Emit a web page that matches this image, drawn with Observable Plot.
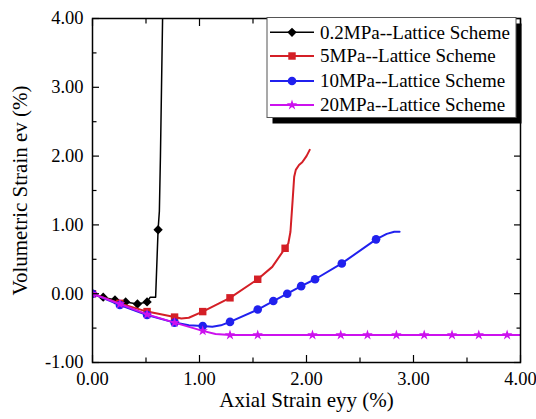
<!DOCTYPE html>
<html><head><meta charset="utf-8">
<script src="https://cdn.jsdelivr.net/npm/d3@7"></script>
<script src="https://cdn.jsdelivr.net/npm/@observablehq/plot@0.6"></script>
<style>body{margin:0;background:#fff}#chart{width:536px;height:419px}</style>
</head><body><div id="chart"></div>
<script>
// ---- data ----
const seriesNames = ["0.2MPa--Lattice Scheme", "5MPa--Lattice Scheme", "10MPa--Lattice Scheme", "20MPa--Lattice Scheme"];
const seriesColors = ["#000000", "#d41f26", "#2020ee", "#cc11ee"];
const seriesSymbols = ["diamond2", "square", "circle", "star"];
const seriesR = [4.2, 4.2, 4.3, 3.3];

// 0.2 MPa
const lineX_02 = [0, 0.10, 0.21, 0.31, 0.42, 0.51, 0.54, 0.59, 0.613, 0.625, 0.635, 0.645, 0.655];
const lineY_02 = [0, -0.05, -0.09, -0.12, -0.15, -0.12, -0.05, -0.05, 0.93, 1.2, 2.0, 3.0, 4.0];
const markX_02 = [0, 0.10, 0.21, 0.31, 0.42, 0.51, 0.613];
const markY_02 = [0, -0.05, -0.09, -0.12, -0.15, -0.12, 0.93];
// 5 MPa
const lineX_5 = [0, 0.256, 0.51, 0.767, 0.83, 0.9, 1.03, 1.285, 1.544, 1.68, 1.80, 1.83, 1.85, 1.87, 1.885, 1.90, 1.93, 1.96, 2.0, 2.03];
const lineY_5 = [0, -0.14, -0.26, -0.34, -0.36, -0.35, -0.26, -0.06, 0.21, 0.39, 0.66, 0.73, 0.9, 1.35, 1.7, 1.8, 1.87, 1.91, 2.0, 2.09];
const markX_5 = [0, 0.256, 0.51, 0.767, 1.03, 1.285, 1.544, 1.80];
const markY_5 = [0, -0.14, -0.26, -0.34, -0.26, -0.06, 0.21, 0.66];
// 10 MPa
const lineX_10 = [0, 0.256, 0.51, 0.767, 0.9, 1.03, 1.12, 1.2, 1.285, 1.544, 1.69, 1.82, 1.95, 2.08, 2.33, 2.65, 2.75, 2.82, 2.87];
const lineY_10 = [0, -0.165, -0.31, -0.42, -0.46, -0.47, -0.48, -0.46, -0.41, -0.23, -0.107, 0.0, 0.11, 0.21, 0.44, 0.79, 0.87, 0.9, 0.9];
const markX_10 = [0, 0.256, 0.51, 0.767, 1.03, 1.285, 1.544, 1.69, 1.82, 1.95, 2.08, 2.33, 2.65];
const markY_10 = [0, -0.165, -0.31, -0.42, -0.47, -0.41, -0.23, -0.107, 0.0, 0.11, 0.21, 0.44, 0.79];
// 20 MPa
const lineX_20 = [0, 0.256, 0.51, 0.767, 1.03, 1.15, 1.285, 1.544, 2.056, 2.32, 2.57, 2.84, 3.10, 3.36, 3.61, 3.875, 4.0];
const lineY_20 = [0, -0.15, -0.30, -0.42, -0.54, -0.585, -0.60, -0.60, -0.60, -0.60, -0.60, -0.60, -0.60, -0.60, -0.60, -0.60, -0.60];
const markX_20 = [0, 0.256, 0.51, 0.767, 1.03, 1.285, 1.544, 2.056, 2.32, 2.57, 2.84, 3.10, 3.36, 3.61, 3.875];
const markY_20 = [0, -0.15, -0.30, -0.42, -0.54, -0.60, -0.60, -0.60, -0.60, -0.60, -0.60, -0.60, -0.60, -0.60, -0.60];

const xMajor = [0, 1, 2, 3, 4];
const xMinor = [0.5, 1.5, 2.5, 3.5];
const yMajor = [-1, 0, 1, 2, 3, 4];
const yMinor = [-0.5, 0.5, 1.5, 2.5, 3.5];
const xTitle = "Axial Strain eyy (%)";
const yTitle = "Volumetric Strain ev (%)";

// ---- build ----
const FONT = "Liberation Serif";
const zip = (xs, ys) => xs.map((x, i) => ({x, y: ys[i]}));
const lines = [zip(lineX_02, lineY_02), zip(lineX_5, lineY_5), zip(lineX_10, lineY_10), zip(lineX_20, lineY_20)];
const marks = [zip(markX_02, markY_02), zip(markX_5, markY_5), zip(markX_10, markY_10), zip(markX_20, markY_20)];
const lineW = [1.5, 2, 2, 2];
const fmt = d => d.toFixed(2);

const dataMarks = [];
lines.forEach((ln, i) => {
  dataMarks.push(Plot.line(ln, {x: "x", y: "y", stroke: seriesColors[i], strokeWidth: lineW[i], clip: true}));
  dataMarks.push(Plot.dot(marks[i], {x: "x", y: "y", symbol: seriesSymbols[i], r: seriesR[i], fill: seriesColors[i], stroke: "none", clip: true}));
});

const tk = (fn, vals, anchor, size) => fn(vals, {anchor, tickSize: size, tickFormat: () => "", label: null, strokeWidth: 1.2,
  ...(anchor === "bottom" ? {dy: -size} : anchor === "top" ? {dy: size} : anchor === "left" ? {dx: size} : {dx: -size})});

const svg = Plot.plot({
  width: 536, height: 419,
  marginLeft: 92, marginRight: 16, marginTop: 18, marginBottom: 57,
  style: {fontFamily: FONT, background: "#fff", color: "#000"},
  x: {domain: [0, 4]},
  y: {domain: [-1, 4]},
  marks: [
    ...dataMarks,
    tk(Plot.axisX, xMajor, "bottom", 7), tk(Plot.axisX, xMinor, "bottom", 4.5),
    tk(Plot.axisX, xMajor, "top", 7), tk(Plot.axisX, xMinor, "top", 4.5),
    tk(Plot.axisY, yMajor, "left", 7), tk(Plot.axisY, yMinor, "left", 4.5),
    tk(Plot.axisY, yMajor, "right", 7), tk(Plot.axisY, yMinor, "right", 4.5),
    Plot.axisX(xMajor, {anchor: "bottom", tickSize: 0, tickPadding: 9, tickFormat: fmt, fontSize: 18.5, fontFamily: FONT, label: null}),
    Plot.axisY(yMajor, {anchor: "left", tickSize: 0, tickPadding: 9, tickFormat: fmt, fontSize: 18.5, fontFamily: FONT, label: null}),
    Plot.text([xTitle], {text: d => d, frameAnchor: "bottom", textAnchor: "middle", lineAnchor: "middle", dy: 38, fontSize: 21, fontFamily: FONT}),
    Plot.text([yTitle], {text: d => d, frameAnchor: "left", textAnchor: "middle", lineAnchor: "middle", dx: -72, rotate: -90, fontSize: 21, fontFamily: FONT}),
    Plot.frame({stroke: "#000", strokeWidth: 1.5})
  ]
});

// ---- legend ----
const g = d3.select(svg).append("g").attr("font-family", FONT).attr("text-anchor", "start");
const lx = 267, ly = 17.5, lw = 249, lh = 100;
g.append("rect").attr("x", lx + 5.5).attr("y", ly + 6).attr("width", lw).attr("height", lh).attr("fill", "#000");
g.append("rect").attr("x", lx).attr("y", ly).attr("width", lw).attr("height", lh).attr("fill", "#fff").attr("stroke", "#555").attr("stroke-width", 1);
const rowY = [32.3, 56, 81, 105];
const symMap = {diamond2: d3.symbolDiamond2, square: d3.symbolSquare, circle: d3.symbolCircle, star: d3.symbolStar};
seriesNames.forEach((name, i) => {
  const y = rowY[i];
  g.append("line").attr("x1", 270).attr("x2", 314).attr("y1", y).attr("y2", y).attr("stroke", seriesColors[i]).attr("stroke-width", lineW[i]);
  g.append("path").attr("d", d3.symbol(symMap[seriesSymbols[i]], Math.PI * seriesR[i] * seriesR[i])()).attr("transform", `translate(292,${y})`).attr("fill", seriesColors[i]);
  g.append("text").attr("x", 320).attr("y", y).attr("dy", "0.33em").attr("font-size", 19).attr("font-family", FONT).attr("text-anchor", "start").attr("fill", "#000").text(name);
});

document.getElementById("chart").appendChild(svg);
</script>
</body></html>
